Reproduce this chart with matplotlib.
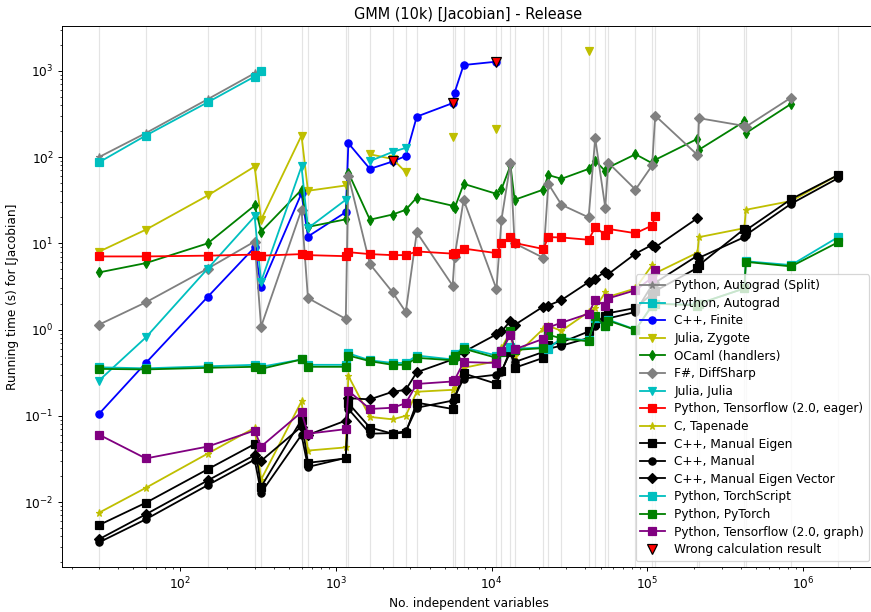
import numpy as np
import matplotlib
matplotlib.use('Agg')
import matplotlib.pyplot as plt

nan = float('nan')

sizes = [30, 60, 150, 300, 330, 600, 660, 1155, 1200, 1650, 2310, 2805,
         3300, 5610, 5775, 6600, 10725, 11550, 13200, 14025, 21450, 23100,
         28050, 41925, 46200, 53625, 56100, 83850, 107250, 112200, 209625,
         214500, 419250, 429000, 838500, 1677000]

def pad(v):
    return list(v) + [nan] * (len(sizes) - len(v))

autograd_split = pad([100, 190, 470, 940])
autograd = pad([87, 178, 433, 860, 1000])
cpp_finite = pad([0.105, 0.41, 2.4, 9.0, 3.1, 38, 12.0, 23, 145, 73, 89, 103,
                  295, 423, 561, 1170, 1280])
julia_zygote = pad([8.0, 14.4, 35.9, 77.8, 18.8, 178, 40.7, 46.9, nan, 108, 95, 67,
                    nan, 173, nan, nan, 213, nan, nan, nan, nan, nan, nan, 1720])
ocaml = pad([4.6, 5.9, 10, 27.5, 13.7, 41.8, 15.5, 19, 66, 18.8, 21.6, 24.5,
             34, 27.3, 25.6, 49, 37.5, 42.5, 80, 32, 42, 62, 56, 73, 90.6,
             69, 75.8, 108, 85, 93, 163, 122, 259, 190, 415])
diffsharp = pad([1.14, 2.07, 5.1, 10.5, 1.08, 24.5, 2.32, 1.33, 61, 5.75, 2.7, 1.6,
                 13.4, 3.23, 7.0, 32, 2.95, 18.8, 86, 10, 6.8, 49, 28, 20, 166,
                 26, 86, 42, 80, 303, 106, 283, 230, 225, 491])
julia_julia = pad([0.256, 0.81, 5.1, 20.5, 3.6, 78, 15, 32, nan, 90, 115, 128])
tf_eager = pad([7.05, 7.05, 7.2, 7.4, 7.2, 7.5, 7.3, 7.1, 7.9, 7.5, 7.3, 7.3,
                8.05, 7.6, 7.8, 8.7, 7.7, 10.1, 11.8, 10.1, 8.6, 11.8, 11.7, 11.0,
                15.3, 12.6, 14.7, 13.1, 16.1, 20.9])
tapenade = pad([0.0075, 0.0146, 0.0365, 0.0725, 0.0182, 0.147, 0.0395, 0.043, 0.29,
                0.097, 0.091, 0.1, 0.19, 0.2, 0.21, 0.36, 0.43, 0.61, 0.95, 0.49,
                1.02, 1.1, 0.97, 1.6, 1.78, 2.7, 2.4, 3.0, 5.6, 4.5, 7.8, 11.8,
                15, 24.5, 31, 62])
manual_eigen = pad([0.0054, 0.0098, 0.024, 0.047, 0.0150, 0.09, 0.0285, 0.032, 0.14,
                    0.073, 0.062, 0.064, 0.142, 0.12, 0.16, 0.31, 0.235, 0.33, 0.55,
                    0.36, 0.47, 0.67, 0.71, 0.95, 1.2, 1.45, 1.55, 1.78, 2.6, 2.8,
                    5.2, 5.6, 14.7, 14.2, 32.6, 62])
manual = pad([0.0034, 0.0063, 0.0157, 0.031, 0.0128, 0.06, 0.0255, 0.0325, 0.12,
              0.062, 0.063, 0.066, 0.124, 0.15, 0.165, 0.27, 0.3, 0.32, 0.59, 0.42,
              0.55, 0.6, 0.65, 0.8, 1.1, 1.3, 1.35, 1.6, 3.3, 3.5, 7.2, 6.8, 11.8,
              12.5, 28.8, 57])
manual_eigen_vector = pad([0.0037, 0.0072, 0.0178, 0.035, 0.030, 0.075, 0.06, 0.088,
                           0.16, 0.155, 0.19, 0.2, 0.32, 0.45, 0.47, 0.55, 0.88, 0.95,
                           1.26, 1.13, 1.85, 1.9, 2.2, 3.55, 3.9, 4.7, 4.4, 7.6, 9.6,
                           9.0, 19.6])
torchscript = pad([0.365, 0.355, 0.375, 0.39, 0.37, 0.45, 0.39, 0.39, 0.53, 0.44,
                   0.41, 0.41, 0.5, 0.45, 0.52, 0.62, 0.5, 0.57, 0.62, 0.6, 0.62,
                   0.6, 0.8, 0.75, 1.35, 1.1, 1.3, 1.0, 1.9, 2.0, 1.95, 2.0, 3.0,
                   6.2, 5.6, 11.8])
pytorch = pad([0.35, 0.345, 0.36, 0.37, 0.35, 0.45, 0.37, 0.37, 0.5, 0.43, 0.39,
               0.39, 0.47, 0.44, 0.5, 0.6, 0.47, 0.55, 0.95, 0.58, 0.61, 0.87, 0.79,
               0.73, 1.43, 1.1, 1.27, 0.99, 1.9, 2.0, 1.9, 2.0, 3.0, 6.1, 5.4, 10.3])
tf_graph = pad([0.0605, 0.032, 0.044, 0.0675, 0.044, 0.11, 0.062, 0.07, 0.195, 0.12,
                0.124, 0.14, 0.234, 0.25, 0.26, 0.42, 0.41, 0.56, 0.87, 0.59, 0.78,
                1.06, 1.2, 1.53, 2.22, 1.87, 2.3, 2.86, 4.0, 4.9])

wrong_x = [2310, 5610, 10725]
wrong_y = [89, 423, 1280]

series = [
    ("Python, Autograd (Split)", autograd_split, 'gray', '*'),
    ("Python, Autograd", autograd, 'c', 's'),
    ("C++, Finite", cpp_finite, 'b', 'o'),
    ("Julia, Zygote", julia_zygote, 'y', 'v'),
    ("OCaml (handlers)", ocaml, 'g', 'd'),
    ("F#, DiffSharp", diffsharp, 'gray', 'D'),
    ("Julia, Julia", julia_julia, 'c', 'v'),
    ("Python, Tensorflow (2.0, eager)", tf_eager, 'r', 's'),
    ("C, Tapenade", tapenade, 'y', '*'),
    ("C++, Manual Eigen", manual_eigen, 'k', 's'),
    ("C++, Manual", manual, 'k', 'o'),
    ("C++, Manual Eigen Vector", manual_eigen_vector, 'k', 'D'),
    ("Python, TorchScript", torchscript, 'c', 's'),
    ("Python, PyTorch", pytorch, 'g', 's'),
    ("Python, Tensorflow (2.0, graph)", tf_graph, 'purple', 's'),
]

W, H = 871, 612
DPI = 87.1
fig = plt.figure(figsize=(W / DPI, H / DPI), dpi=DPI)
ax = fig.add_axes([62 / W, 45 / H, 813 / W, 541 / H])

for x in sizes:
    ax.axvline(x, color='lightgray', lw=1, alpha=0.6, zorder=0)

for label, vals, col, mk in series:
    ax.plot(sizes, vals, color=col, marker=mk, label=label)

ax.plot(wrong_x, wrong_y, linestyle='none', marker='v', color='r',
        markeredgecolor='k', ms=8, label="Wrong calculation result")

ax.set_xscale('log')
ax.set_yscale('log')
ax.set_title("GMM (10k) [Jacobian] - Release", fontsize=12)
ax.set_xlabel("No. independent variables")
ax.set_ylabel("Running time (s) for [Jacobian]")
ax.legend(loc='lower right', labelspacing=0.38)

fig.savefig('out.png', dpi=DPI)
